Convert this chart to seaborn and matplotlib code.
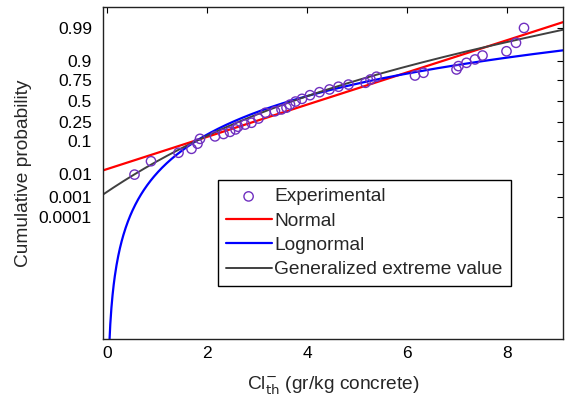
import numpy as np
import pandas as pd
import matplotlib
matplotlib.use('Agg')
import matplotlib.pyplot as plt
import seaborn as sns
from statistics import NormalDist

# experimental points
exp_x = [0.55, 0.88, 1.43, 1.69, 1.81, 1.86, 2.16, 2.33, 2.46, 2.57,
         2.62, 2.76, 2.89, 3.03, 3.17, 3.36, 3.49, 3.59, 3.66, 3.77,
         3.90, 4.06, 4.25, 4.45, 4.63, 4.83, 5.17, 5.27, 5.39, 6.16,
         6.33, 6.99, 7.03, 7.19, 7.36, 7.51, 7.99, 8.18, 8.34]
exp_p = [0.0091, 0.0266, 0.0482, 0.0622, 0.0850, 0.1118, 0.1274, 0.1441, 0.1601, 0.1798,
         0.2035, 0.2233, 0.2410, 0.2850, 0.3509, 0.3688, 0.3909, 0.4133, 0.4514, 0.4900,
         0.5247, 0.5710, 0.6083, 0.6417, 0.6736, 0.6978, 0.7177, 0.7524, 0.7794, 0.7905,
         0.8149, 0.8418, 0.8663, 0.8878, 0.9069, 0.9262, 0.9434, 0.9682, 0.9901]

# fitted distribution parameters (estimated from the lines)
normal_mu, normal_sigma = 4.24, 1.94
logn_mu, logn_sigma = 1.302, 0.563
gev_k, gev_sigma, gev_mu = -0.08, 1.59, 3.16

prob_ticks = [0.0001, 0.001, 0.01, 0.1, 0.25, 0.5, 0.75, 0.9, 0.99]
prob_labels = ['0.0001', '0.001', '0.01', '0.1', '0.25', '0.5', '0.75', '0.9', '0.99']

nd = NormalDist()
def probit(p):
    return np.array([nd.inv_cdf(v) for v in p])

xlim = (-0.08, 9.12)
xx = np.linspace(xlim[0], xlim[1], 400)
xl = np.linspace(0.02, xlim[1], 800)

z_norm = (xx - normal_mu) / normal_sigma
z_logn = (np.log(xl) - logn_mu) / logn_sigma
u = 1 + gev_k * (xx - gev_mu) / gev_sigma
z_gev = probit(np.exp(-u ** (-1 / gev_k)))

df_exp = pd.DataFrame({'x': exp_x, 'z': probit(exp_p)})

sns.set_style('white')
plt.rcParams['font.family'] = ['Liberation Sans', 'DejaVu Sans']

fig = plt.figure(figsize=(5.67, 4.05), dpi=100)
ax = fig.add_axes([103/567, 1-339/405, 460/567, 332/405])

sns.scatterplot(data=df_exp, x='x', y='z', ax=ax, marker='o', s=45,
                facecolors='none', edgecolor='#7030c0', linewidth=1.0,
                label='Experimental', zorder=5)
sns.lineplot(x=xx, y=z_norm, ax=ax, color='red', linewidth=1.6, label='Normal')
sns.lineplot(x=xl, y=z_logn, ax=ax, color='blue', linewidth=1.6, label='Lognormal')
sns.lineplot(x=xx, y=z_gev, ax=ax, color='#404040', linewidth=1.4,
             label='Generalized extreme value')

ax.set_xlim(xlim)
ax.set_ylim(-7.62, 3.0)
ax.set_xticks([0, 2, 4, 6, 8])
ax.set_yticks(probit(prob_ticks))
ax.set_yticklabels(prob_labels)
ax.tick_params(direction='in', top=True, right=True, length=4, width=0.8,
               labelsize=12.5, colors='black')
ax.tick_params(axis='y', pad=8)
ax.tick_params(axis='x', pad=5)
for s in ax.spines.values():
    s.set_color('#222222')
    s.set_linewidth(1.0)

ax.set_xlabel('Cl$^{-}_{\\mathrm{th}}$ (gr/kg concrete)', fontsize=13.8, labelpad=10)
ax.set_ylabel('Cumulative probability', fontsize=13.8, labelpad=5)

leg = ax.legend(loc='upper left', bbox_to_anchor=(0.249, 0.479), fontsize=13.8,
                frameon=True, fancybox=False, framealpha=1, edgecolor='black',
                handlelength=2.4, handletextpad=0.15, labelspacing=0.36,
                borderpad=0.42, borderaxespad=0)
leg.get_frame().set_linewidth(1.0)

fig.savefig('out.png', dpi=100)
